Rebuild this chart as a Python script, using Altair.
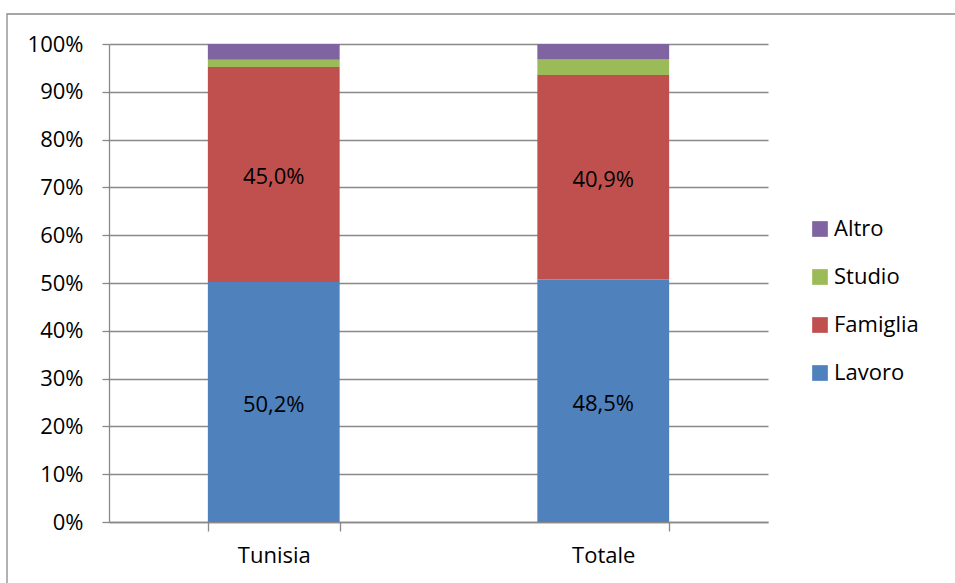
import altair as alt
import pandas as pd

# Reasons for migration, by group (percent values)
categorie = ["Tunisia", "Totale"]
motivi = ["Lavoro", "Famiglia", "Studio", "Altro"]
lavoro = [50.2, 48.5]
famiglia = [45.0, 40.9]
studio = [1.5, 3.1]
altro = [3.3, 3.1]

legenda_ordine = ["Altro", "Studio", "Famiglia", "Lavoro"]
colori = ["#8064A2", "#9BBB59", "#C0504D", "#4F81BD"]

serie = {"Lavoro": lavoro, "Famiglia": famiglia, "Studio": studio, "Altro": altro}
righe = []
for i, cat in enumerate(categorie):
    for j, mot in enumerate(motivi):
        righe.append({"categoria": cat, "motivo": mot, "valore": serie[mot][i], "ord": j})
df = pd.DataFrame(righe)

FONT = "Open Sans"
GRIGIO = "#898989"

x_enc = alt.X(
    "categoria:N",
    sort=categorie,
    scale=alt.Scale(paddingInner=0.6, paddingOuter=0.3),
    axis=alt.Axis(
        title=None,
        labelAngle=0,
        tickBand="extent",
        tickSize=9,
        labelPadding=14,
        grid=False,
    ),
)

barre = alt.Chart(df).mark_bar().encode(
    x=x_enc,
    y=alt.Y(
        "valore:Q",
        stack="normalize",
        scale=alt.Scale(domain=[0, 1]),
        axis=alt.Axis(
            title=None,
            format=".0%",
            values=[i / 10 for i in range(11)],
            tickSize=7,
            labelPadding=19,
            grid=True,
        ),
    ),
    color=alt.Color(
        "motivo:N",
        scale=alt.Scale(domain=legenda_ordine, range=colori),
        legend=alt.Legend(
            title=None,
            orient="none",
            legendX=700,
            legendY=174,
            symbolType="square",
            symbolSize=246,
            symbolStrokeWidth=0,
            labelFontSize=22,
            labelFont=FONT,
            labelColor="#000000",
            labelOffset=3,
            rowPadding=26,
            padding=0,
            labelExpr="(datum.label == 'Famiglia' || datum.label == 'Lavoro') ? '\u00a0' + datum.label : datum.label",
        ),
    ),
    order=alt.Order("ord:Q"),
)

etichette = (
    alt.Chart(df)
    .transform_stack(
        stack="valore",
        groupby=["categoria"],
        as_=["y0", "y1"],
        sort=[alt.SortField("ord", order="ascending")],
        offset="normalize",
    )
    .transform_calculate(
        mid="(datum.y0 + datum.y1) / 2",
        testo="replace(format(datum.valore, '.1f'), '.', ',') + '%'",
    )
    .transform_filter("datum.ord < 2")
    .mark_text(font=FONT, fontSize=22, color="#000000", baseline="middle", align="center", dy=3)
    .encode(
        x=alt.X("categoria:N", sort=categorie),
        y=alt.Y("mid:Q"),
        text="testo:N",
    )
)

cornice = (
    alt.Chart(pd.DataFrame({"k": [0]}))
    .mark_rect(fill="transparent", stroke=GRIGIO, strokeWidth=1.3)
    .encode(
        x=alt.value(-102),
        x2=alt.value(851),
        y=alt.value(-30),
        y2=alt.value(545),
    )
)

chart = (
    alt.layer(cornice, barre, etichette)
    .properties(
        width=659,
        height=478,
        autosize=alt.AutoSizeParams(type="none"),
        padding={"left": 109, "top": 44, "right": 187, "bottom": 61},
        background="white",
    )
    .configure_view(strokeWidth=0)
    .configure_axis(
        labelFont=FONT,
        labelFontSize=22,
        labelColor="#000000",
        domainColor=GRIGIO,
        domainWidth=1.3,
        tickColor=GRIGIO,
        tickWidth=1.3,
        gridColor=GRIGIO,
        gridWidth=1.3,
        gridOpacity=1,
    )
)

chart.save("out.html", embed_options={"renderer": "svg", "actions": False})
